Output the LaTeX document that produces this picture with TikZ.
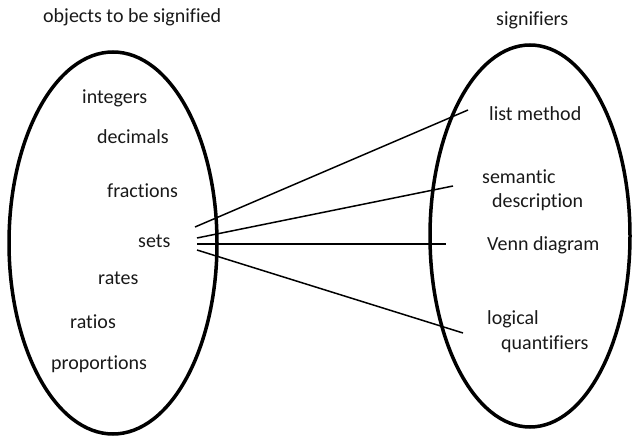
\documentclass[tikz,border=0pt]{standalone}
\usepackage{fontspec}
\setmainfont{Carlito}[Ligatures=NoCommon]
\usetikzlibrary{shapes.geometric}
\begin{document}
\begin{tikzpicture}[x=1pt,y=-1pt,
  lbl/.style={font=\fontsize{20}{24}\selectfont, inner sep=0pt, anchor=west, text height=14pt, text depth=4pt, text=black!90, yshift=-2.5pt},
  oval/.style={draw, ellipse, line width=3.5pt, inner sep=0pt},
  link/.style={line width=1.5pt}]
\useasboundingbox (0,0) rectangle (632,438);
% ellipses
\node[oval, minimum width=208pt, minimum height=382pt] (L) at (113,243) {};
\node[oval, minimum width=200pt, minimum height=382pt] (R) at (530,236) {};
% titles
\node[lbl] (tl) at (43,15) {objects to be signified};
\node[lbl] (tr) at (496,18) {signifiers};
% left items
\node[lbl] (int) at (82,96) {integers};
\node[lbl] (dec) at (97,136) {decimals};
\node[lbl] (fra) at (107,190) {fractions};
\node[lbl] (sets) at (138,240) {sets};
\node[lbl] (rat) at (98,277) {rates};
\node[lbl] (rto) at (70,321) {ratios};
\node[lbl] (pro) at (51,362) {proportions};
% right items
\node[lbl] (lm) at (489,113) {list method};
\node[lbl] (sem) at (482,176) {semantic};
\node[lbl] (des) at (492,200) {description};
\node[lbl] (ven) at (487,243) {Venn diagram};
\node[lbl] (log) at (487,317) {logical};
\node[lbl] (qua) at (501,342) {quantifiers};
% connector ends
\coordinate (s1) at (195,227);
\coordinate (s2) at (197,238);
\coordinate (s3) at (197,244);
\coordinate (s4) at (197,250);
\coordinate (e1) at (468,110);
\coordinate (e2) at (453,186);
\coordinate (e3) at (446,244);
\coordinate (e4) at (463,333);
\draw[link] (s1) -- (e1);
\draw[link] (s2) -- (e2);
\draw[link] (s3) -- (e3);
\draw[link] (s4) -- (e4);
\end{tikzpicture}
\end{document}
